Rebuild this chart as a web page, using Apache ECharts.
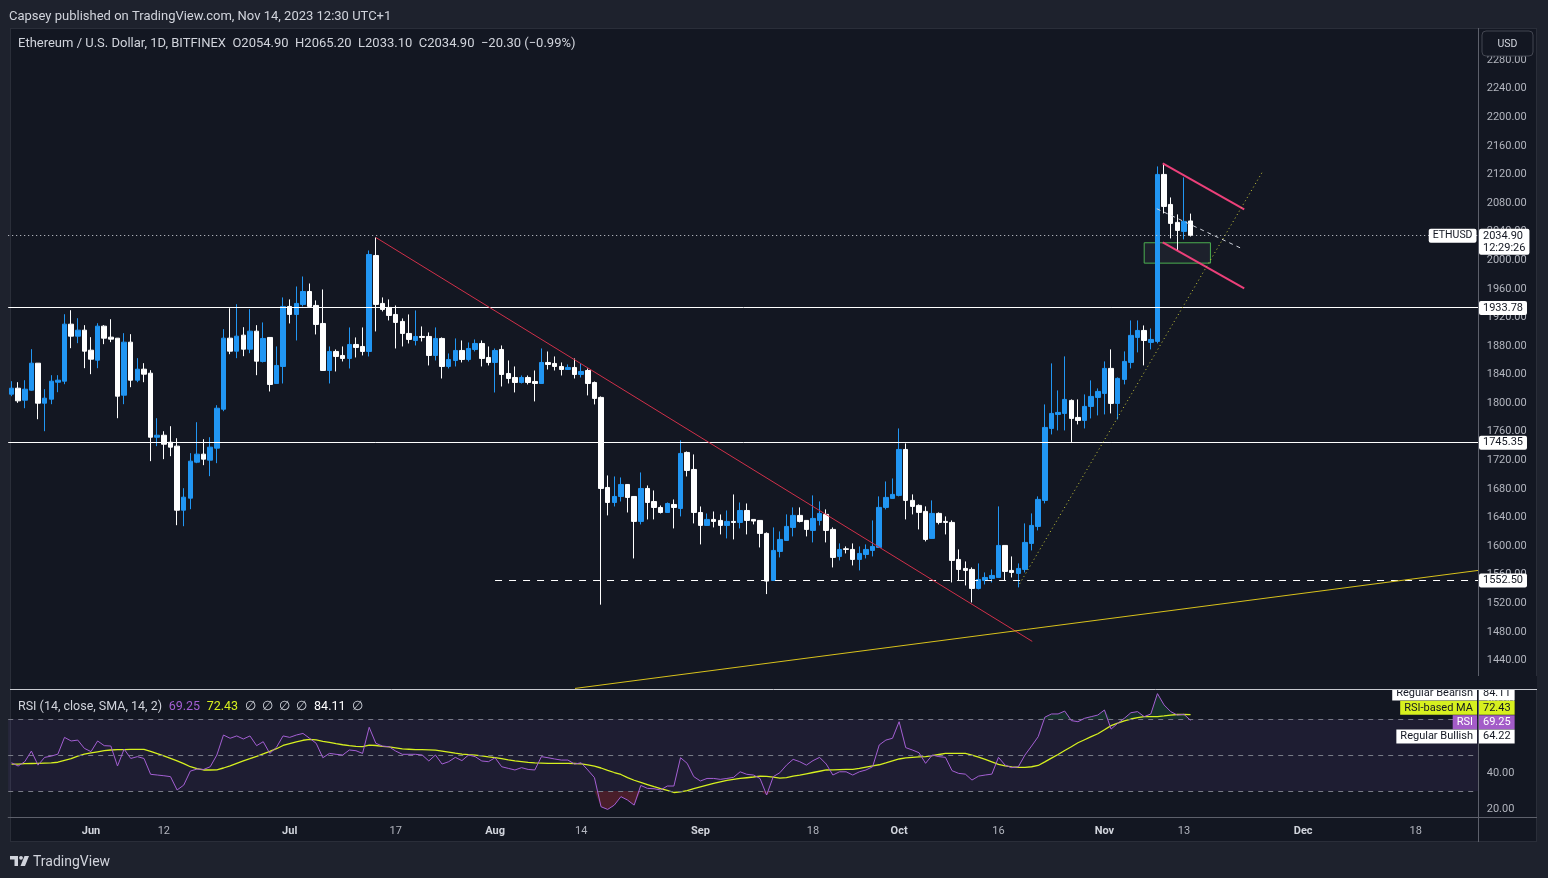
<!DOCTYPE html>
<html><head><meta charset="utf-8">
<script src="https://cdn.jsdelivr.net/npm/echarts/dist/echarts.min.js"></script>
<style>
html,body{margin:0;padding:0;background:#1e222d;overflow:hidden;}
#frame{position:absolute;left:10px;top:28px;width:1527px;height:814px;background:#131722;border:1px solid #2a2e39;box-sizing:border-box;}
#c{position:absolute;left:0;top:0;width:1548px;height:878px;}
</style>
</head><body><div id="frame"></div><div id="c"></div>
<script>
// ---- DATA ----
const startDay = '2023-05-20';
const totalSlots = 222; // visible day slots incl. empty future area
// candles: [open, high, low, close], one per day from 2023-05-20 to 2023-11-14
const candles = [
[1812.5,1830.7,1809.7,1820.9],[1820.9,1829.3,1800.4,1803.2],[1804.1,1832.1,1792.9,1819.5],[1818.1,1875.5,1817.2,1855.9],[1855.9,1856.0,1777.5,1799.9],
[1799.9,1819.5,1760.7,1806.9],[1805.5,1839.1,1798.5,1830.7],[1829.3,1839.1,1815.3,1832.1],[1830.7,1924.4,1826.5,1910.5],[1910.5,1930.0,1876.9,1893.7],
[1893.7,1918.8,1883.9,1902.1],[1902.1,1909.1,1848.9,1872.7],[1874.1,1892.3,1840.5,1861.5],[1860.1,1911.8,1848.9,1907.7],[1907.7,1909.1,1882.5,1890.9],
[1892.3,1917.4,1885.3,1889.5],[1890.9,1891.0,1778.9,1809.7],[1811.1,1897.9,1798.5,1885.3],[1885.3,1896.5,1822.3,1832.1],[1832.1,1862.9,1829.3,1847.5],
[1847.5,1855.9,1829.3,1840.5],[1841.9,1846.1,1718.8,1752.3],[1752.3,1778.9,1739.8,1755.1],[1755.1,1760.7,1721.6,1742.5],[1745.3,1767.7,1725.8,1738.4],
[1739.8,1750.9,1629.2,1650.2],[1650.2,1681.0,1627.8,1668.4],[1667.0,1730.0,1651.6,1718.8],[1717.4,1773.3,1716.0,1728.6],[1728.6,1749.5,1713.2,1721.6],
[1720.2,1752.3,1697.8,1738.4],[1737.0,1797.1,1716.0,1792.9],[1791.5,1903.5,1788.7,1890.9],[1890.9,1932.8,1868.5,1872.7],[1872.7,1938.4,1862.9,1893.7],
[1895.1,1906.3,1865.7,1875.5],[1875.5,1931.4,1869.9,1900.7],[1900.7,1909.1,1839.1,1858.7],[1858.3,1912.9,1856.9,1890.5],[1891.9,1892.0,1816.3,1826.1],
[1827.5,1879.3,1827.0,1852.7],[1851.3,1947.9,1827.5,1935.3],[1935.3,1945.1,1911.5,1924.1],[1924.1,1963.2,1887.7,1939.5],[1938.1,1977.2,1935.3,1956.2],
[1956.2,1967.4,1933.9,1935.3],[1936.7,1943.7,1896.1,1910.1],[1911.5,1959.0,1845.0,1845.7],[1845.7,1879.3,1827.5,1872.3],[1872.3,1875.1,1844.3,1865.3],
[1866.7,1879.3,1858.3,1862.5],[1862.5,1905.9,1848.5,1882.1],[1882.1,1891.9,1863.9,1877.9],[1879.3,1905.9,1866.7,1872.3],[1872.3,2013.6,1865.3,2008.0],
[2006.6,2031.8,1900.3,1938.1],[1939.5,1947.9,1928.3,1931.1],[1933.9,1945.1,1915.7,1922.7],[1924.1,1936.7,1876.5,1912.9],[1914.3,1918.5,1879.3,1897.5],
[1897.5,1924.1,1883.5,1889.1],[1887.7,1929.7,1880.7,1893.3],[1893.3,1907.3,1886.3,1891.9],[1893.3,1898.9,1852.7,1866.7],[1866.7,1905.9,1859.7,1890.5],
[1890.5,1891.9,1834.5,1851.3],[1851.3,1869.5,1848.5,1861.1],[1859.7,1890.5,1851.3,1873.7],[1873.7,1887.7,1856.9,1861.1],[1861.1,1884.9,1858.3,1876.5],
[1875.1,1889.1,1872.3,1883.5],[1883.5,1887.7,1851.3,1862.5],[1863.9,1879.3,1852.7,1856.9],[1856.9,1876.5,1814.9,1873.7],[1875.1,1880.7,1823.3,1840.1],
[1841.5,1859.7,1827.5,1834.5],[1835.9,1851.3,1815.0,1828.9],[1828.9,1838.7,1827.5,1835.9],[1835.9,1838.7,1826.1,1828.9],[1830.3,1845.7,1802.4,1827.5],
[1827.5,1876.5,1827.0,1856.9],[1856.9,1872.3,1847.1,1854.1],[1855.5,1865.3,1845.7,1851.3],[1851.3,1856.9,1838.7,1847.1],[1847.1,1854.1,1846.5,1849.9],
[1849.9,1862.5,1834.5,1840.1],[1840.1,1855.5,1835.9,1844.3],[1845.7,1848.5,1810.8,1827.5],[1828.9,1830.3,1798.2,1806.6],[1808.0,1809.4,1518.0,1680.6],
[1682.0,1698.8,1642.9,1661.0],[1661.0,1697.4,1655.4,1669.4],[1669.4,1696.0,1662.4,1686.2],[1686.2,1686.5,1647.0,1668.0],[1669.4,1669.6,1582.7,1634.5],
[1634.5,1703.0,1630.3,1680.6],[1680.6,1684.8,1637.3,1661.0],[1662.4,1677.8,1637.3,1654.0],[1654.0,1656.8,1645.6,1647.0],[1647.0,1661.0,1646.5,1659.6],
[1658.2,1665.2,1624.7,1654.0],[1652.6,1747.8,1641.5,1729.6],[1731.0,1732.4,1697.4,1705.8],[1707.2,1728.2,1631.7,1647.0],[1647.0,1655.4,1602.3,1628.9],
[1628.9,1645.6,1628.5,1637.3],[1637.3,1648.4,1626.1,1634.5],[1635.9,1644.2,1616.3,1628.9],[1628.9,1649.8,1610.7,1634.5],[1634.5,1672.2,1609.3,1633.1],
[1633.1,1661.0,1624.7,1649.8],[1649.8,1659.6,1616.3,1635.9],[1637.3,1637.5,1630.3,1635.0],[1635.9,1636.0,1598.1,1617.7],[1617.7,1619.1,1532.8,1551.0],
[1551.9,1626.1,1551.5,1593.9],[1592.5,1620.5,1584.1,1609.3],[1607.9,1644.3,1607.5,1627.5],[1626.1,1654.1,1613.5,1642.9],[1642.9,1654.1,1633.1,1634.5],
[1635.9,1636.0,1613.5,1623.3],[1621.9,1670.9,1605.1,1638.7],[1635.9,1662.5,1628.9,1645.7],[1644.3,1651.3,1605.1,1621.9],[1623.3,1626.1,1570.1,1584.1],
[1585.5,1603.7,1579.9,1595.3],[1596.2,1599.5,1589.7,1595.3],[1595.3,1603.7,1572.9,1581.3],[1581.3,1599.5,1565.9,1589.7],[1588.3,1602.3,1582.7,1595.3],
[1593.9,1635.9,1585.5,1599.5],[1598.1,1669.5,1597.8,1654.1],[1654.1,1690.4,1651.3,1668.1],[1666.7,1694.6,1666.3,1672.3],[1670.9,1764.6,1669.5,1735.2],
[1735.2,1743.6,1637.3,1663.9],[1663.9,1672.3,1644.3,1655.5],[1656.9,1658.3,1623.3,1647.1],[1648.5,1655.5,1606.5,1609.3],[1610.7,1663.9,1610.3,1645.7],
[1645.7,1647.1,1630.3,1633.1],[1634.5,1641.5,1616.3,1633.1],[1633.1,1635.9,1549.1,1579.9],[1581.3,1595.3,1551.9,1567.3],[1568.7,1578.5,1544.9,1565.9],
[1567.3,1570.1,1521.1,1540.7],[1540.7,1575.7,1539.3,1553.3],[1551.9,1563.1,1546.3,1556.1],[1554.7,1567.3,1549.1,1558.9],[1556.1,1655.5,1555.7,1600.9],
[1600.9,1601.0,1551.9,1564.5],[1565.9,1585.5,1556.1,1563.1],[1561.7,1575.7,1542.2,1568.7],[1567.3,1631.7,1563.1,1605.1],[1603.7,1645.7,1593.9,1628.9],
[1627.5,1669.5,1621.9,1665.3],[1663.9,1798.2,1659.7,1766.0],[1764.6,1855.6,1756.2,1785.6],[1784.2,1817.8,1761.8,1787.0],[1785.6,1865.4,1761.8,1805.2],
[1803.8,1805.2,1745.0,1778.6],[1780.0,1805.2,1770.2,1775.8],[1775.8,1812.2,1764.6,1795.4],[1795.4,1831.8,1778.6,1809.4],[1808.0,1820.6,1782.8,1816.4],
[1813.6,1858.4,1784.2,1848.6],[1848.6,1875.2,1785.6,1799.6],[1799.6,1836.0,1777.2,1834.6],[1833.2,1872.4,1826.2,1858.4],[1857.0,1915.7,1848.6,1894.8],
[1892.0,1915.7,1871.0,1901.7],[1901.7,1908.7,1852.8,1887.7],[1885.0,1904.5,1875.2,1889.1],[1886.4,2131.2,1883.6,2120.0],[2120.0,2134.0,2065.4,2075.2],
[2078.0,2087.8,2030.5,2051.5],[2052.9,2064.1,2013.7,2041.7],[2040.3,2115.8,2029.1,2054.3],[2054.9,2065.2,2033.1,2034.9]
];
const rsi = [
45.7,43.9,46.3,52.2,44.4,48.7,49.4,50.5,59.8,57.8,
58.3,53.7,51.9,57.8,55.2,55.0,43.9,53.3,48.1,49.1,
48.1,39.3,38.9,38.5,38.0,30.6,33.3,41.1,42.2,42.0,
43.5,50.0,61.1,59.3,60.6,58.9,60.6,55.2,57.4,50.9,
54.3,60.6,59.8,61.1,62.0,59.3,56.5,48.5,50.9,50.4,
50.0,52.8,52.4,50.9,65.4,56.5,55.0,54.6,52.2,50.4,
50.4,50.4,50.0,46.7,50.0,45.0,46.3,48.7,46.9,50.0,
49.1,46.7,46.3,48.5,43.5,42.6,41.7,43.0,42.0,41.7,
49.1,48.5,47.8,47.2,47.2,45.0,45.7,41.7,37.5,21.3,
19.8,22.2,26.9,25.0,22.2,33.1,31.5,31.3,30.6,32.8,
32.8,48.5,45.4,38.0,35.6,37.0,37.0,36.5,37.0,37.6,
40.7,39.3,38.9,37.0,27.8,38.0,40.2,44.4,47.6,46.3,
44.4,46.9,48.7,45.0,38.9,40.7,40.7,38.9,40.7,41.7,
43.5,55.6,58.3,59.3,68.5,54.1,52.8,51.3,45.4,50.0,
49.1,48.7,41.3,39.8,39.4,36.1,38.3,38.9,39.4,48.7,
44.4,43.0,43.5,50.0,55.0,60.2,71.0,72.8,72.8,74.4,
69.1,68.5,70.4,71.3,72.2,75.0,64.4,67.6,70.4,73.5,
74.1,71.3,72.8,84.1,77.8,74.1,72.2,72.6,69.25
];
const rsiMA = [
45.0,45.0,45.2,45.3,45.4,45.5,45.6,46.0,47.0,48.0,
49.4,50.5,51.2,51.8,52.4,52.8,53.0,53.0,53.1,53.1,
53.1,52.0,50.8,49.5,48.2,46.8,45.2,43.5,42.5,41.7,
41.7,41.8,42.8,44.0,45.4,46.8,48.0,49.3,50.7,52.0,
53.5,55.3,56.3,57.3,58.2,58.7,58.4,57.6,57.0,56.3,
55.7,55.2,54.8,54.7,55.5,55.3,54.8,54.5,54.0,53.4,
53.2,53.0,53.0,52.9,52.7,52.2,51.6,51.0,50.5,50.2,
50.0,49.5,49.0,48.6,48.0,47.3,46.7,46.3,45.9,45.6,
45.5,45.4,45.4,45.4,45.4,45.3,45.1,44.5,43.8,42.8,
41.5,40.3,39.2,37.5,36.0,34.8,33.6,32.4,31.3,30.4,
29.2,29.6,30.2,31.3,32.3,33.3,34.3,35.1,35.9,36.5,
37.0,37.4,37.8,38.3,38.1,37.7,37.2,37.5,38.3,38.9,
39.6,40.3,41.0,41.7,41.8,41.9,42.0,42.0,42.6,43.3,
44.0,44.6,45.6,46.7,47.8,48.4,48.7,49.0,49.1,49.7,
50.3,50.9,50.9,50.9,50.9,50.0,48.8,47.6,46.2,44.8,
44.0,43.4,43.1,43.1,43.5,44.2,46.2,48.3,50.3,52.5,
54.6,56.8,58.5,60.2,61.8,64.0,66.3,67.7,68.9,70.0,
70.8,71.3,71.3,71.3,71.7,72.2,72.5,72.5,72.43
];
// drawings: [dayIndex, price]
const redTrend = [[55, 2031.8], [154.1, 1466.6]];
const yellowSupport = [[85.07, 1400.8], [221.4, 1565.9]];
const pinkUpper = [[173.8, 2135.4], [186.1, 2071.0]];
const pinkLower = [[173.8, 2024.9], [186.1, 1960.5]];
const whiteDashed = [[172.9, 2072.0], [186.0, 2015.1]];
const dottedRise = [[152.2, 1547.3], [188.8, 2122.8]];
const greenBox = [[171.0, 2024.4], [181.0, 1995.9]];
const levels = [1933.78, 1745.35];
const lastPrice = 2034.90;
const supportDashed = [[73, 1552.50], [221.5, 1552.50]];
const tickDates = ['2023-06-01','2023-06-12','2023-07-01','2023-07-17','2023-08-01','2023-08-14','2023-09-01','2023-09-18','2023-10-01','2023-10-16','2023-11-01','2023-11-13','2023-12-01','2023-12-18'];
const monthNames = ['Jan','Feb','Mar','Apr','May','Jun','Jul','Aug','Sep','Oct','Nov','Dec'];
const rsiTicks = [20, 40, 60, 80];
const rsiTags = [
  {name:'Regular Bearish', value:84.11, bg:'#ffffff', fg:'#131722', vbg:'#ffffff', vfg:'#131722'},
  {name:'RSI-based MA', value:72.43, bg:'#d7f01f', fg:'#131722', vbg:'#d7f01f', vfg:'#131722'},
  {name:'RSI', value:69.25, bg:'#a35cc8', fg:'#ffffff', vbg:'#a35cc8', vfg:'#ffffff'},
  {name:'Regular Bullish', value:64.22, bg:'#ffffff', fg:'#131722', vbg:'#ffffff', vfg:'#131722'}
];

// ---- BUILD ----
const dates = [];
{
  const t0 = Date.parse(startDay + 'T00:00:00Z');
  for (let i = 0; i < totalSlots; i++) dates.push(new Date(t0 + i * 86400000).toISOString().slice(0, 10));
}
const FONT = 'Roboto, "Noto Sans", sans-serif';
const gridLeft = 8.2, gridWidth = 1470.5;
const obBase = rsi.map(v => 70);
const obDiff = rsi.map(v => Math.max(0, v - 70));
const osBase = rsi.map(v => Math.min(v, 30));
const osDiff = rsi.map(v => 30 - Math.min(v, 30));

function seg(data, color, width, type, extra) {
  return Object.assign({
    type: 'line', xAxisIndex: 1, yAxisIndex: 0, data: data, symbol: 'none', silent: true,
    lineStyle: {color: color, width: width, type: type || 'solid'}, z: 5, animation: false
  }, extra || {});
}

const chart = echarts.init(document.getElementById('c'), null, {renderer: 'canvas'});
const option = {
  backgroundColor: 'transparent',
  animation: false,
  grid: [
    {left: gridLeft, width: gridWidth, top: 31.5, height: 657.5},
    {left: gridLeft, width: gridWidth, top: 690, height: 127}
  ],
  xAxis: [
    {type: 'category', gridIndex: 0, data: dates, boundaryGap: true, show: false},
    {type: 'value', gridIndex: 0, min: -0.5, max: totalSlots - 0.5, show: false},
    {type: 'category', gridIndex: 1, data: dates, boundaryGap: true,
      axisLine: {show: true, lineStyle: {color: '#5d606b'}}, axisTick: {show: false},
      axisLabel: {
        margin: 9, fontFamily: FONT, fontSize: 11, color: '#b2b5be',
        interval: function (i, v) { return tickDates.indexOf(v) >= 0; },
        formatter: function (v) {
          const d = +v.slice(8, 10);
          if (d === 1) return '{m|' + monthNames[+v.slice(5, 7) - 1] + '}';
          return '{d|' + d + '}';
        },
        rich: {
          m: {fontFamily: FONT, fontSize: 11, fontWeight: 'bold', color: '#d1d4dc'},
          d: {fontFamily: FONT, fontSize: 11, color: '#b2b5be'}
        }
      },
      splitLine: {show: false}}
  ],
  yAxis: [
    {type: 'value', gridIndex: 0, position: 'right', min: 1400, max: 2320, interval: 40,
      axisLine: {show: false}, axisTick: {show: false}, splitLine: {show: false},
      axisLabel: {margin: 8, fontFamily: FONT, fontSize: 11, color: '#b2b5be', padding: [2, 0, 0, 0],
        showMinLabel: false, showMaxLabel: false, formatter: v => v.toFixed(2)}},
    {type: 'value', gridIndex: 1, position: 'right', min: 15.6, max: 86.1,
      axisLine: {show: false}, axisTick: {show: false}, splitLine: {show: false},
      axisLabel: {margin: 8, fontFamily: FONT, fontSize: 11, color: '#b2b5be', padding: [2, 0, 0, 0],
        customValues: rsiTicks, formatter: v => v.toFixed(2)}}
  ],
  series: [
    // horizontal levels and price line
    {type: 'line', xAxisIndex: 1, yAxisIndex: 0, data: [], symbol: 'none', silent: true, z: 3,
      markLine: {symbol: 'none', silent: true, label: {show: false}, animation: false,
        data: [
          {yAxis: levels[0], lineStyle: {color: '#ffffff', width: 1, type: 'solid'}},
          {yAxis: levels[1], lineStyle: {color: '#ffffff', width: 1, type: 'solid'}},
          {yAxis: lastPrice, lineStyle: {color: '#d1d4dc', width: 1, type: [1, 3]}},
          [{coord: supportDashed[0], lineStyle: {color: '#ffffff', width: 1, type: [7, 7]}}, {coord: supportDashed[1]}]
        ]},
      markArea: {silent: true, animation: false,
        itemStyle: {color: 'rgba(120,123,134,0.10)', borderColor: '#4caf50', borderWidth: 1},
        data: [[{coord: greenBox[0]}, {coord: greenBox[1]}]]}
    },
    {type: 'candlestick', xAxisIndex: 0, yAxisIndex: 0, barWidth: 5, z: 4,
      data: candles.map(c => [c[0], c[3], c[2], c[1]]),
      itemStyle: {color: '#2196f3', color0: '#ffffff', borderColor: '#2196f3', borderColor0: '#ffffff', borderWidth: 1}},
    seg(redTrend, '#d1304a', 1),
    seg(yellowSupport, '#d8c21c', 1),
    seg(pinkUpper, '#ec407a', 2),
    seg(pinkLower, '#ec407a', 2),
    seg(whiteDashed, '#d1d4dc', 1, [4, 4]),
    seg(dottedRise, '#c9c93a', 1, [1, 3]),
    // RSI pane
    {type: 'line', xAxisIndex: 2, yAxisIndex: 1, data: obBase, stack: 'ob', symbol: 'none', silent: true,
      lineStyle: {opacity: 0}, z: 2},
    {type: 'line', xAxisIndex: 2, yAxisIndex: 1, data: obDiff, stack: 'ob', symbol: 'none', silent: true,
      lineStyle: {opacity: 0}, areaStyle: {color: 'rgba(38,166,91,0.25)'}, z: 2},
    {type: 'line', xAxisIndex: 2, yAxisIndex: 1, data: osBase, stack: 'os', symbol: 'none', silent: true,
      lineStyle: {opacity: 0}, z: 2},
    {type: 'line', xAxisIndex: 2, yAxisIndex: 1, data: osDiff, stack: 'os', symbol: 'none', silent: true,
      lineStyle: {opacity: 0}, areaStyle: {color: 'rgba(242,54,69,0.35)'}, z: 2},
    {type: 'line', xAxisIndex: 2, yAxisIndex: 1, data: rsiMA, symbol: 'none', silent: true,
      lineStyle: {color: '#d7f01f', width: 1.3}, z: 4},
    {type: 'line', xAxisIndex: 2, yAxisIndex: 1, data: rsi, symbol: 'none', silent: true,
      lineStyle: {color: '#a45fd3', width: 1}, z: 5,
      markArea: {silent: true, animation: false, itemStyle: {color: 'rgba(126,87,194,0.10)'},
        data: [[{yAxis: 30}, {yAxis: 70}]]},
      markLine: {symbol: 'none', silent: true, label: {show: false}, animation: false,
        lineStyle: {color: '#787b86', width: 1, type: [5, 5]},
        data: [{yAxis: 70}, {yAxis: 50}, {yAxis: 30}]}}
  ]
};
chart.setOption(option);

// ---- overlay texts / tags (positions from the library's scales) ----
const py = v => chart.convertToPixel({yAxisIndex: 0}, v);
const ry = v => chart.convertToPixel({yAxisIndex: 1}, v);
function txt(x, y, text, opts) {
  const s = Object.assign({text: text, fill: '#d1d4dc', font: '13px ' + FONT,
    align: 'left', verticalAlign: 'middle', textAlign: 'left', textVerticalAlign: 'middle'}, opts || {});
  if (s.align) s.textAlign = s.align;
  if (s.verticalAlign) s.textVerticalAlign = s.verticalAlign;
  return {type: 'text', x: x, y: y, z: 100, silent: true, style: s};
}
const g = [];
// header
g.push(txt(9, 16.5, 'Capsey published on TradingView.com, Nov 14, 2023 12:30 UTC+1', {font: '13px ' + FONT, fill: '#d1d4dc'}));
g.push(txt(18, 43.5, 'Ethereum / U.S. Dollar, 1D, BITFINEX  O2054.90  H2065.20  L2033.10  C2034.90  \u221220.30 (\u22120.99%)', {font: '13px ' + FONT, fill: '#d1d4dc'}));
// RSI legend
g.push({type: 'text', x: 18, y: 706.5, z: 100, silent: true, style: {
  text: '{a|RSI (14, close, SMA, 14, 2)}  {p|69.25}  {y|72.43}  {a|\u2205  \u2205  \u2205  \u2205}  {w|84.11}  {a|\u2205}',
  verticalAlign: 'middle', textVerticalAlign: 'middle',
  rich: {
    a: {fill: '#d1d4dc', font: '12.5px ' + FONT},
    p: {fill: '#a45fd3', font: '12.5px ' + FONT},
    y: {fill: '#d7f01f', font: '12.5px ' + FONT},
    w: {fill: '#ffffff', font: '12.5px ' + FONT}
  }}});
// pane separators / axis line
g.push({type: 'line', z: 60, silent: true, shape: {x1: 10, y1: 689.5, x2: 1537, y2: 689.5}, style: {stroke: '#c8cad0', lineWidth: 1}});
g.push({type: 'line', z: 60, silent: true, shape: {x1: 1478.5, y1: 28, x2: 1478.5, y2: 842}, style: {stroke: '#5d606b', lineWidth: 1}});
g.push({type: 'line', z: 60, silent: true, shape: {x1: 10, y1: 817.5, x2: 1537, y2: 817.5}, style: {stroke: '#5d606b', lineWidth: 1}});
// USD button
g.push({type: 'rect', z: 100, silent: true, shape: {x: 1482, y: 31, width: 51, height: 25, r: 4}, style: {fill: '#131722', stroke: '#434651', lineWidth: 1}});
g.push(txt(1507.5, 44.5, 'USD', {font: '10.5px ' + FONT, align: 'center', fill: '#d1d4dc'}));
// price tags
const tagFont = '11px ' + FONT;
g.push(txt(1479, py(lastPrice) - 6.5, '2034.90\n12:29:26', {font: tagFont, fill: '#131722', backgroundColor: '#ffffff',
  padding: [1, 4, 1, 4], lineHeight: 12, verticalAlign: 'top', borderRadius: 2}));
g.push(txt(1476.5, py(lastPrice) + 0.5, 'ETHUSD', {font: '10.5px ' + FONT, fill: '#131722', backgroundColor: '#ffffff',
  padding: [1, 4, 1, 4], lineHeight: 12, align: 'right', borderRadius: 2}));
levels.concat([supportDashed[0][1]]).forEach(v => {
  g.push(txt(1479, py(v) + 0.5, v.toFixed(2), {font: tagFont, fill: '#131722', backgroundColor: '#ffffff',
    padding: [1, 4, 1, 4], lineHeight: 12, borderRadius: 2}));
});
// RSI tags, spread as a centred cluster
{
  const ys = rsiTags.map(t => ry(t.value));
  const mean = ys.reduce((a, b) => a + b, 0) / ys.length;
  const step = 14.3;
  rsiTags.forEach((t, i) => {
    const y = mean + (i - (rsiTags.length - 1) / 2) * step + 0.5;
    g.push(txt(1477, y, t.name, {font: tagFont, fill: t.fg, backgroundColor: t.bg, padding: [1, 4, 1, 4], lineHeight: 12, align: 'right'}));
    g.push(txt(1479, y, t.value.toFixed(2), {font: tagFont, fill: t.vfg, backgroundColor: t.vbg, padding: [1, 4, 1, 4], lineHeight: 12}));
  });
}
// cover for clipped top of RSI tags
g.push({type: 'rect', z: 110, silent: true, shape: {x: 1380, y: 676, width: 157, height: 13}, style: {fill: '#131722'}});
g.push({type: 'line', z: 111, silent: true, shape: {x1: 1380, y1: 689.5, x2: 1537, y2: 689.5}, style: {stroke: '#c8cad0', lineWidth: 1}});
// TradingView logo + text
g.push({type: 'rect', z: 100, silent: true, shape: {x: 10, y: 856, width: 8, height: 3.5}, style: {fill: '#d1d4dc'}});
g.push({type: 'rect', z: 100, silent: true, shape: {x: 14.5, y: 856, width: 3.5, height: 10}, style: {fill: '#d1d4dc'}});
g.push({type: 'circle', z: 100, silent: true, shape: {cx: 21, cy: 857.8, r: 1.9}, style: {fill: '#d1d4dc'}});
g.push({type: 'polygon', z: 100, silent: true, shape: {points: [[24.5, 856], [29, 856], [25, 866], [20.5, 866]]}, style: {fill: '#d1d4dc'}});
g.push(txt(33, 862, 'TradingView', {font: '14px ' + FONT, fill: '#d1d4dc'}));

chart.setOption({graphic: g});
</script>
</body></html>
